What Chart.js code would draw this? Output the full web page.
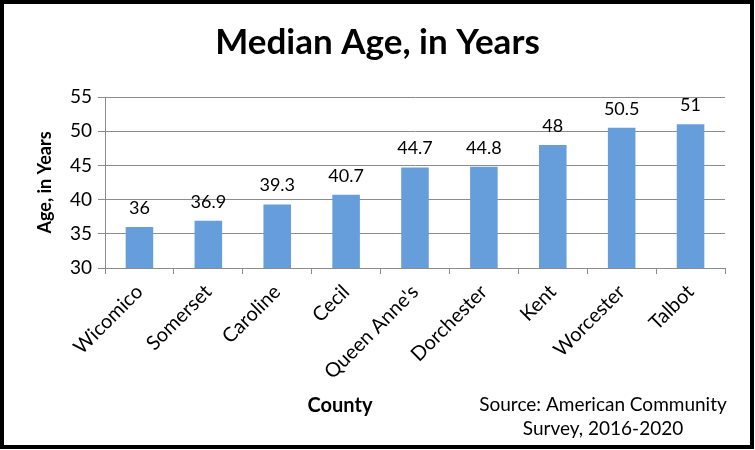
<!DOCTYPE html>
<html>
<head>
<meta charset="utf-8">
<script src="https://cdn.jsdelivr.net/npm/chart.js@4/dist/chart.umd.min.js"></script>
<style>
  body { margin: 0; background: #fff; }
  #wrap { width: 755px; height: 450px; position: relative; }
</style>
</head>
<body>
<div id="wrap"><canvas id="myChart" width="755" height="450"></canvas></div>
<script>
// data
const counties = ['Wicomico', 'Somerset', 'Caroline', 'Cecil', "Queen Anne's", 'Dorchester', 'Kent', 'Worcester', 'Talbot'];
const medianAge = [36, 36.9, 39.3, 40.7, 44.7, 44.8, 48, 50.5, 51];
const yTicks = [30, 35, 40, 45, 50, 55];

const fontFamily = 'Lato, "Open Sans", sans-serif';

// values above bars + County label + source note + frame
const extras = {
    id: 'extras',
    afterDatasetsDraw(chart) {
        const ctx = chart.ctx;
        const meta = chart.getDatasetMeta(0);
        ctx.save();
        ctx.fillStyle = '#000';
        ctx.font = '18px ' + fontFamily;
        ctx.textAlign = 'center';
        ctx.textBaseline = 'bottom';
        meta.data.forEach((bar, i) => {
            ctx.fillText(String(medianAge[i]), bar.x, bar.y - 10);
        });
        ctx.restore();
    },
    afterDraw(chart) {
        const ctx = chart.ctx;
        ctx.save();
        ctx.fillStyle = '#000';
        ctx.textAlign = 'center';
        ctx.textBaseline = 'middle';
        ctx.font = 'bold 20px ' + fontFamily;
        ctx.fillText('County', 340, 406);
        ctx.font = '19px ' + fontFamily;
        ctx.fillText('Source: American Community', 603, 405);
        ctx.fillText('Survey, 2016-2020', 603, 429);
        ctx.strokeStyle = '#000';
        ctx.lineWidth = 4;
        ctx.strokeRect(2, 2, 750, 445);
        ctx.restore();
    }
};

const ctx = document.getElementById('myChart').getContext('2d');
const myChart = new Chart(ctx, {
    type: 'bar',
    data: {
        labels: counties,
        datasets: [{
            data: medianAge,
            backgroundColor: '#669edc',
            borderWidth: 0,
            barPercentage: 0.4,
            categoryPercentage: 1
        }]
    },
    options: {
        responsive: false,
        animation: false,
        layout: { padding: { left: 30, right: 30, top: 0, bottom: 0 } },
        plugins: {
            legend: { display: false },
            tooltip: { enabled: false },
            title: {
                display: true,
                text: 'Median Age, in Years',
                color: '#000',
                font: { family: fontFamily, size: 35, weight: 'bold' },
                padding: { top: 22, bottom: 33 }
            }
        },
        scales: {
            y: {
                min: 30,
                max: 55,
                afterBuildTicks: (scale) => { scale.ticks = yTicks.map(v => ({ value: v })); },
                ticks: {
                    color: '#000',
                    font: { family: fontFamily, size: 19 },
                    padding: 6
                },
                grid: { color: '#8c8c8c', tickLength: 7, lineWidth: 1 },
                border: { color: '#8c8c8c' },
                title: {
                    display: true,
                    text: 'Age, in Years',
                    color: '#000',
                    font: { family: fontFamily, size: 18, weight: 'bold' },
                    padding: { top: 4, bottom: 0 }
                },
                afterFit: (scale) => { scale.width = 75; }
            },
            x: {
                ticks: {
                    color: '#000',
                    font: { family: fontFamily, size: 20 },
                    minRotation: 45,
                    maxRotation: 45,
                    padding: 6
                },
                grid: { drawOnChartArea: false, color: '#8c8c8c', tickLength: 6, offset: true },
                border: { color: '#8c8c8c' },
                afterFit: (scale) => { scale.height = 182; }
            }
        }
    },
    plugins: [extras]
});
</script>
</body>
</html>
